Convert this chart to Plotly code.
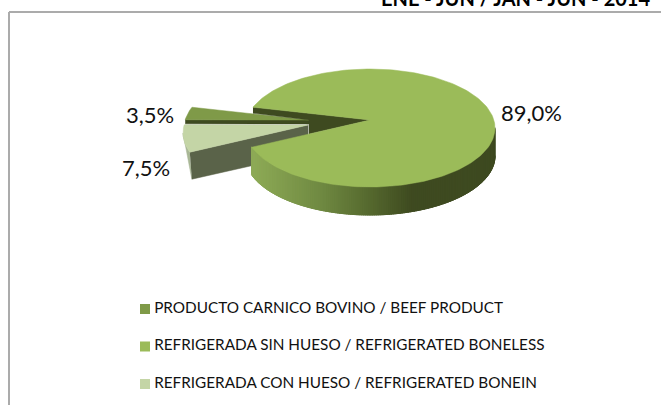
import numpy as np
import plotly.graph_objects as go

# ---- data ----
categories = ["PRODUCTO CARNICO BOVINO / BEEF PRODUCT",
              "REFRIGERADA SIN HUESO / REFRIGERATED BONELESS",
              "REFRIGERADA CON HUESO / REFRIGERATED BONEIN"]
shares = [3.5, 89.0, 7.5]
title_text = "ENE - JUN / JAN - JUN - 2014"

# ---- styles / projection of the tilted pie (pixel frame) ----
top_colors = ["#7F9A48", "#9BBB59", "#C4D5A6"]
DARK, BONE_WALL, BONE_RIM = "#3E4A20", "#5A6349", "#A9B796"
CX, CY, RX, RY = 370, 128, 125, 59      # rim ellipse
APEX = (370, 120)                       # apex sits above ellipse centre (perspective)
DEPTH = 28
START = 188.0                           # first slice start, degrees, clockwise
OFFSETS = [(-61, 0), (0, 0), (-62, 5)]  # explosion of each slice
FONT = "Lato"
GRADIENT = [(255, (141, 170, 86)), (320, (112, 138, 66)), (370, (85, 104, 46)),
            (412, (62, 74, 32)), (495, (62, 74, 32))]
LABEL_POS = [(150, 114), (531, 112), (146, 167)]
LEGEND_Y = [309, 346.5, 384]
LEGEND_X = 145

# slice angles follow from the values
spans = [s / sum(shares) * 360 for s in shares]
edges = START + np.concatenate([[0], np.cumsum(spans)])


def rim(t, off=(0, 0)):
    t = np.radians(np.asarray(t, dtype=float))
    return CX + off[0] + RX * np.cos(t), CY + off[1] + RY * np.sin(t)


def arc(a, b, off=(0, 0), n=None):
    n = n or max(3, int(abs(b - a) / 1.5))
    return rim(np.linspace(a, b, n), off)


def wedge(a, b, off=(0, 0)):
    x, y = arc(a, b, off)
    return (np.r_[APEX[0] + off[0], x, APEX[0] + off[0]],
            np.r_[APEX[1] + off[1], y, APEX[1] + off[1]])


def grad(x):
    xs = [g[0] for g in GRADIENT]
    c = [np.interp(x, xs, [g[1][i] for g in GRADIENT]) for i in range(3)]
    return "rgb(%d,%d,%d)" % tuple(c)


fig = go.Figure()


def poly(x, y, color, name=None, lw=0.5):
    fig.add_trace(go.Scatter(x=list(x), y=list(y), mode="lines", fill="toself", fillcolor=color,
                             line=dict(color=color, width=lw), showlegend=False,
                             hoverinfo="skip" if name is None else "text", text=name))


beef_a, beef_b = edges[0], edges[1]
big_a, big_b = edges[1], edges[2]
bone_a, bone_b = edges[2], edges[3]
off_beef, off_bone = OFFSETS[0], OFFSETS[2]

# --- bone-in slice: outer rim, cut wall, top
rx0, ry0 = arc(bone_a - 360, bone_a - 360 + 19, off_bone)
poly(np.r_[rx0, rx0[0] + 2], np.r_[ry0, ry0[0] + DEPTH - 1], BONE_RIM)
ex, ey = rim(bone_a - 360, off_bone)
ax, ay = APEX[0] + off_bone[0], APEX[1] + off_bone[1]
poly([ex, ax, ax, ex + 2], [ey, ay, ay + DEPTH, ey + DEPTH - 1], BONE_WALL)
wx, wy = wedge(bone_a, bone_b, off_bone)
poly(wx, wy, top_colors[2], categories[2])

# --- beef slice: thin visible wall, top
sx, sy = rim(beef_a, off_beef)
bx, by = APEX[0] + off_beef[0], APEX[1] + off_beef[1]
poly([sx, bx, bx, sx], [sy, by, by + 4, sy + 4], DARK)
wx, wy = wedge(beef_a, beef_b, off_beef)
poly(wx, wy, top_colors[0], categories[0])

# --- main slice: dark inner walls behind the gap
gx, gy = rim(big_a)
frac = (bx - APEX[0]) / (rim(big_b)[0] - APEX[0])
poly([gx, APEX[0], bx, bx, gx],
     [gy, APEX[1], APEX[1] + frac * (rim(big_b)[1] - APEX[1]), by, gy + 6], DARK)

# --- main slice: shaded outer side, one strip per step
steps = np.arange(0, big_b - 360 + 0.01, 1.0)
steps = np.r_[steps, big_b - 360] if steps[-1] < big_b - 360 else steps
for a, b in zip(steps[:-1], steps[1:]):
    qx, qy = arc(a - 0.4, b + 0.4, n=3)
    poly(np.r_[qx, qx[::-1]], np.r_[qy, qy[::-1] + DEPTH], grad(qx.mean()), lw=1)

# --- main slice: top
wx, wy = wedge(big_a, big_b)
poly(wx, wy, top_colors[1], categories[1])

# --- legend (swatch + real text)
for name, color, y in zip(categories, top_colors, LEGEND_Y):
    fig.add_trace(go.Scatter(x=[LEGEND_X], y=[y], mode="markers+text", text=["\u2009" + name],
                             textposition="middle right",
                             textfont=dict(family=FONT, size=15.3, color="#111111"),
                             marker=dict(symbol="square", size=10, color=color),
                             showlegend=False, name=name))

# --- data labels
for v, (lx, ly) in zip(shares, LABEL_POS):
    fig.add_annotation(x=lx, y=ly, text=f"{v:.1f}%".replace(".", ","), showarrow=False,
                       font=dict(family=FONT, size=22, color="#111111"))

# --- title, cut by the top edge as in the reference
fig.add_annotation(xref="x", yref="paper", x=515, y=1, yanchor="middle", yshift=2,
                   text=f"<b>{title_text}</b>", showarrow=False,
                   font=dict(family=FONT, size=20, color="#000000"))

# --- chart frame
FRAME = dict(color="#ABABAB", width=2)
fig.add_shape(type="line", x0=9, x1=661, y0=12, y1=12, line=FRAME, layer="below")
fig.add_shape(type="line", x0=9, x1=9, y0=12, y1=405, line=FRAME, layer="below")

fig.update_layout(
    width=661, height=405, margin=dict(l=0, r=0, t=0, b=0), showlegend=False,
    paper_bgcolor="white", plot_bgcolor="white",
    xaxis=dict(range=[0, 661], visible=False, fixedrange=True),
    yaxis=dict(range=[405, 0], visible=False, fixedrange=True),
)
fig.write_html("out.html", config={"displayModeBar": False},
               post_script="document.body.style.margin='0';document.body.style.overflow='hidden';")
